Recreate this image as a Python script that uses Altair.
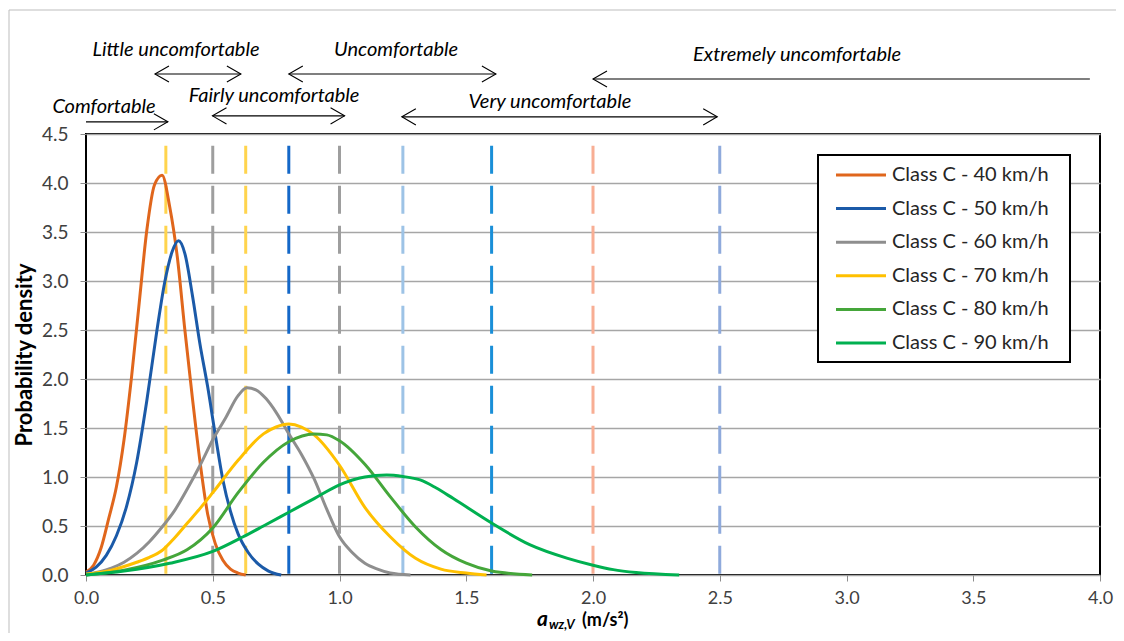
import altair as alt
import pandas as pd

# ---------------- data ----------------
series_names = ["Class C - 40 km/h", "Class C - 50 km/h", "Class C - 60 km/h",
                "Class C - 70 km/h", "Class C - 80 km/h", "Class C - 90 km/h"]
series_colors = ["#E0661C", "#1B5AA8", "#8E8E8E", "#FFC000", "#45A63A", "#00B050"]

x40 = [0.0, 0.03, 0.06, 0.09, 0.12, 0.15, 0.18, 0.21, 0.24, 0.27, 0.30, 0.33, 0.36, 0.39,
       0.42, 0.45, 0.48, 0.51, 0.54, 0.57, 0.60, 0.63]
y40 = [0.03, 0.10, 0.28, 0.58, 0.90, 1.38, 2.03, 2.78, 3.52, 3.98, 4.08, 3.76, 3.25, 2.50,
       1.80, 1.15, 0.62, 0.32, 0.15, 0.06, 0.02, 0.0]

x50 = [0.0, 0.04, 0.08, 0.12, 0.16, 0.20, 0.24, 0.28, 0.31, 0.34, 0.365, 0.39, 0.42, 0.45,
       0.48, 0.51, 0.54, 0.57, 0.60, 0.64, 0.68, 0.72, 0.77]
y50 = [0.02, 0.08, 0.20, 0.40, 0.70, 1.15, 1.78, 2.50, 2.98, 3.30, 3.41, 3.28, 2.85, 2.35,
       1.92, 1.43, 0.97, 0.65, 0.42, 0.23, 0.11, 0.04, 0.0]

x60 = [0.0, 0.05, 0.1, 0.15, 0.2, 0.25, 0.3, 0.35, 0.4, 0.45, 0.5, 0.55, 0.6, 0.635, 0.67,
       0.71, 0.75, 0.8, 0.85, 0.9, 0.95, 1.0, 1.05, 1.1, 1.15, 1.2, 1.28]
y60 = [0.0, 0.03, 0.07, 0.13, 0.22, 0.34, 0.49, 0.66, 0.88, 1.12, 1.38, 1.60, 1.83, 1.91, 1.89,
       1.80, 1.66, 1.44, 1.23, 0.98, 0.67, 0.39, 0.23, 0.12, 0.06, 0.02, 0.0]

x70 = [0.0, 0.1, 0.2, 0.25, 0.3, 0.35, 0.4, 0.45, 0.5, 0.6, 0.7, 0.75, 0.8, 0.85, 0.9, 1.0,
       1.1, 1.2, 1.3, 1.4, 1.5, 1.58]
y70 = [0.01, 0.05, 0.13, 0.18, 0.25, 0.38, 0.53, 0.68, 0.84, 1.17, 1.44, 1.51, 1.54, 1.51,
       1.43, 1.12, 0.69, 0.39, 0.17, 0.06, 0.02, 0.0]

x80 = [0.0, 0.15, 0.3, 0.4, 0.5, 0.6, 0.7, 0.8, 0.9, 0.95, 1.0, 1.1, 1.2, 1.3, 1.4, 1.5,
       1.6, 1.76]
y80 = [0.0, 0.05, 0.15, 0.26, 0.48, 0.84, 1.15, 1.36, 1.44, 1.43, 1.37, 1.13, 0.80, 0.49,
       0.26, 0.12, 0.04, 0.0]

x90 = [0.0, 0.15, 0.33, 0.5, 0.62, 0.7, 0.8, 0.9, 1.0, 1.1, 1.186, 1.25, 1.318, 1.38, 1.449,
       1.6, 1.75, 1.9, 2.0, 2.08, 2.17, 2.34]
y90 = [0.0, 0.04, 0.12, 0.24, 0.39, 0.50, 0.64, 0.78, 0.92, 1.0, 1.02, 1.005, 0.97, 0.89,
       0.78, 0.53, 0.31, 0.17, 0.10, 0.055, 0.025, 0.0]

thr_x = [0.315, 0.5, 0.63, 0.8, 1.0, 1.25, 1.6, 2.0, 2.5]
thr_colors = ["#FFD44D", "#9E9E9E", "#FFD44D", "#1468C8", "#9E9E9E", "#9DC3E6",
              "#1A8FD8", "#F8AE94", "#8FAADC"]

zone_labels = ["Comfortable", "Little uncomfortable", "Fairly uncomfortable",
               "Uncomfortable", "Very uncomfortable", "Extremely uncomfortable"]
zone_from = [0.0, 0.272, 0.499, 0.80, 1.246, 2.0]
zone_to = [0.323, 0.611, 1.02, 1.617, 2.49, 3.96]
zone_arrow_y = [4.624, 5.112, 4.685, 5.112, 4.675, 5.061]
zone_text_x = [0.071, 0.355, 0.742, 1.223, 1.83, 2.805]
zone_text_y = [4.777, 5.358, 4.888, 5.358, 4.826, 5.307]
zone_left_head = [False, True, True, True, True, True]
zone_right_head = [True, True, True, True, True, False]

x_ticks = [0.0, 0.5, 1.0, 1.5, 2.0, 2.5, 3.0, 3.5, 4.0]
y_ticks = [0.0, 0.5, 1.0, 1.5, 2.0, 2.5, 3.0, 3.5, 4.0, 4.5]

# ---------------- frames ----------------
xs_all = [x40, x50, x60, x70, x80, x90]
ys_all = [y40, y50, y60, y70, y80, y90]
curves = pd.DataFrame([
    {"series": n, "x": xv, "y": yv}
    for n, xl, yl in zip(series_names, xs_all, ys_all)
    for xv, yv in zip(xl, yl)
])
thr = pd.DataFrame({"x": thr_x, "k": [str(i) for i in range(len(thr_x))]})
zones = pd.DataFrame({"label": zone_labels, "x": zone_from, "x2": zone_to,
                      "y": zone_arrow_y, "tx": zone_text_x, "ty": zone_text_y})
lheads = pd.DataFrame({"x": [a for a, f in zip(zone_from, zone_left_head) if f],
                       "y": [a for a, f in zip(zone_arrow_y, zone_left_head) if f]})
rheads = pd.DataFrame({"x": [a for a, f in zip(zone_to, zone_right_head) if f],
                       "y": [a for a, f in zip(zone_arrow_y, zone_right_head) if f]})
one = pd.DataFrame({"d": [0]})

FONT = "Lato"
xscale = alt.Scale(domain=[0, 4], nice=False, zero=False)
yscale = alt.Scale(domain=[0, 4.5], nice=False, zero=False)
xaxis = alt.Axis(values=x_ticks, format=".1f", grid=False, domain=False,
                 tickColor="#8C8C8C", tickSize=6, tickWidth=1, labelFlush=False,
                 labelFont=FONT, labelFontSize=18, labelColor="#404040",
                 labelPadding=8)
yaxis = alt.Axis(values=y_ticks, format=".1f", grid=True, gridColor="#A6A6A6",
                 gridWidth=1.4, domain=False, tickColor="#8C8C8C", tickSize=6,
                 tickWidth=1, labelFlush=False, labelFont=FONT, labelFontSize=19,
                 labelColor="#404040", labelPadding=12, titleFont=FONT, titleFontSize=22,
                 titleFontWeight="bold", titleColor="#000000", titlePadding=5)


def X(field):
    return alt.X(field, type="quantitative", scale=xscale, axis=xaxis, title=None)


def Y(field):
    return alt.Y(field, type="quantitative", scale=yscale, axis=yaxis,
                 title="Probability density")


# outer frame
frame = alt.Chart(one).mark_rect(fill="white", fillOpacity=0, stroke="#BDBDBD",
                                 strokeWidth=1).encode(
    x=alt.value(-77), x2=alt.value(1040), y=alt.value(-124), y2=alt.value(520))

dashes = alt.Chart(thr).mark_rule(strokeWidth=3, strokeDash=[28, 12]).encode(
    x=X("x"), y=alt.Y(datum=4.38, scale=yscale, axis=yaxis, title="Probability density"),
    y2=alt.Y2(datum=0),
    color=alt.Color("k:N", scale=alt.Scale(domain=list(thr["k"]), range=thr_colors), legend=None))

lines = alt.Chart(curves).mark_line(strokeWidth=3, interpolate="monotone").encode(
    x=X("x"), y=Y("y"),
    color=alt.Color("series:N", scale=alt.Scale(domain=series_names, range=series_colors),
                    legend=None),
    order="x:Q")

arrows = alt.Chart(zones).mark_rule(color="black", strokeWidth=1.1).encode(
    x=X("x"), x2="x2", y=Y("y"))

lh = alt.Chart(lheads).mark_point(shape="M 2 -1.15 L 0 0 L 2 1.15", filled=False,
                                  color="black", strokeWidth=1.1, size=196, opacity=1).encode(
    x=X("x"), y=Y("y"))
rh = alt.Chart(rheads).mark_point(shape="M -2 -1.15 L 0 0 L -2 1.15", filled=False,
                                  color="black", strokeWidth=1.1, size=196, opacity=1).encode(
    x=X("x"), y=Y("y"))

ztext = alt.Chart(zones).mark_text(font=FONT, fontSize=20, fontStyle="italic",
                                   color="#000000").encode(
    x=X("tx"), y=Y("ty"), text="label:N")

# legend (manual box)
legend_layers = [alt.Chart(one).mark_rect(fill="white", stroke="black", strokeWidth=2).encode(
    x=alt.value(732), x2=alt.value(984), y=alt.value(21), y2=alt.value(228))]
for i, (n, c) in enumerate(zip(series_names, series_colors)):
    ly = 41 + i * 33.6
    legend_layers.append(alt.Chart(one).mark_rule(color=c, strokeWidth=3).encode(
        x=alt.value(750), x2=alt.value(800), y=alt.value(ly)))
    legend_layers.append(alt.Chart(pd.DataFrame({"s": [n]})).mark_text(
        font=FONT, fontSize=20, align="left", baseline="middle", color="#262626").encode(
        x=alt.value(806), y=alt.value(ly), text="s:N"))

# x-axis title (with subscript)
xt_a = alt.Chart(pd.DataFrame({"s": ["a"]})).mark_text(
    font=FONT, fontSize=21, fontStyle="italic", fontWeight="bold", align="left",
    baseline="alphabetic", color="#000000").encode(x=alt.value(451), y=alt.value(492), text="s:N")
xt_sub = alt.Chart(pd.DataFrame({"s": ["wz,V"]})).mark_text(
    font=FONT, fontSize=13, fontStyle="italic", fontWeight="bold", align="left",
    baseline="alphabetic", color="#000000").encode(x=alt.value(463), y=alt.value(495), text="s:N")
xt_unit = alt.Chart(pd.DataFrame({"s": ["(m/s²)"]})).mark_text(
    font=FONT, fontSize=18, fontWeight="bold", align="left",
    baseline="alphabetic", color="#000000").encode(x=alt.value(496), y=alt.value(492), text="s:N")

chart = alt.layer(frame, dashes, lines, arrows, lh, rh, ztext, *legend_layers,
                  xt_a, xt_sub, xt_unit).resolve_scale(color="independent").properties(
    width=1014, height=441,
    autosize=alt.AutoSizeParams(type="none"),
    padding={"left": 78, "top": 126, "right": 16, "bottom": 58},
    background="white",
).configure_view(stroke="black", strokeWidth=2)

chart.save("out.html", embed_options={"renderer": "svg", "actions": False})
